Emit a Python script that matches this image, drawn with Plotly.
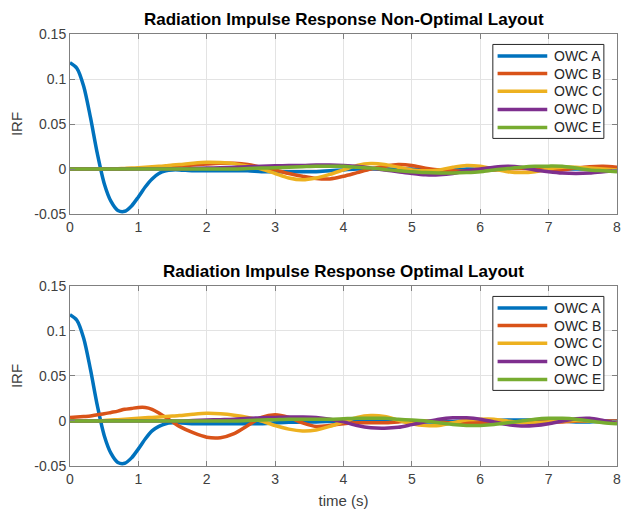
import plotly.graph_objects as go
from plotly.subplots import make_subplots

# time grid (s)
t = [0, 0.1, 0.2, 0.3, 0.4, 0.5, 0.6, 0.7, 0.8, 0.9, 1.0, 1.1, 1.2, 1.3, 1.4, 1.5, 1.6,
     1.8, 2.0, 2.2, 2.4, 2.6, 2.8, 3.0, 3.2, 3.4, 3.6, 3.8, 4.0, 4.2, 4.4, 4.6, 4.8,
     5.0, 5.2, 5.4, 5.6, 5.8, 6.0, 6.2, 6.4, 6.6, 6.8, 7.0, 7.2, 7.4, 7.6, 7.8, 8.0]

names = ["OWC A", "OWC B", "OWC C", "OWC D", "OWC E"]
colors = ["#0072BD", "#D95319", "#EDB120", "#7E2F8E", "#77AC30"]

# Non-optimal layout
nonopt_A = [0.118, 0.112, 0.092, 0.057, 0.017, -0.016, -0.036, -0.046, -0.047, -0.041, -0.031, -0.020, -0.011, -0.005, -0.002, -0.001, -0.001,
            -0.002, -0.002, -0.002, -0.002, -0.002, -0.003, -0.003, -0.003, -0.003, -0.003, -0.002, -0.001, 0.0, 0.0, 0.0, 0.0,
            0.0, -0.001, -0.001, -0.001, 0.0, 0.0, 0.0, 0.001, 0.001, 0.001, 0.001, 0.0, 0.0, 0.0, 0.0, 0.0]
nonopt_B = [0.0, 0.0, 0.0, 0.0, 0.0, 0.0, 0.0, 0.0, 0.0, 0.0003, 0.0005, 0.001, 0.0015, 0.002, 0.0025, 0.003, 0.0035,
            0.0045, 0.0055, 0.0063, 0.0063, 0.005, 0.002, -0.001, -0.005, -0.008, -0.0105, -0.011, -0.008, -0.004, 0.0, 0.003, 0.005,
            0.004, 0.001, -0.001, -0.002, -0.0025, -0.002, -0.001, 0.0, 0.0005, 0.0, -0.0015, -0.001, 0.001, 0.0025, 0.003, 0.002]
nonopt_C = [0.0, 0.0, 0.0, 0.0, 0.0, 0.0, 0.0002, 0.0004, 0.0007, 0.001, 0.0015, 0.002, 0.0025, 0.003, 0.0037, 0.0045, 0.005,
            0.0065, 0.0075, 0.0072, 0.006, 0.003, 0.0, -0.005, -0.010, -0.012, -0.010, -0.006, -0.001, 0.004, 0.006, 0.005, 0.002,
            -0.001, -0.002, -0.001, 0.002, 0.004, 0.003, 0.0, -0.003, -0.004, -0.003, 0.0, 0.002, 0.002, 0.001, 0.0, -0.001]
nonopt_D = [0.0, 0.0, 0.0, 0.0, 0.0, 0.0, 0.0, 0.0, 0.0, 0.0, 0.0, 0.0, 0.0, 0.0, 0.0, 0.0, 0.0,
            0.0005, 0.001, 0.0015, 0.002, 0.0025, 0.003, 0.0035, 0.004, 0.004, 0.0045, 0.0045, 0.004, 0.003, 0.001, -0.001, -0.003,
            -0.005, -0.0065, -0.0065, -0.005, -0.002, 0.0, 0.002, 0.003, 0.002, -0.001, -0.003, -0.0045, -0.005, -0.0045, -0.003, -0.002]
nonopt_E = [0.0, 0.0, 0.0, 0.0, 0.0, 0.0, 0.0, 0.0, 0.0, 0.0, 0.0, 0.0, 0.0, 0.0, 0.0, 0.0, 0.0,
            0.0, 0.0, 0.0, 0.0, 0.0005, 0.001, 0.0015, 0.002, 0.0025, 0.003, 0.003, 0.003, 0.002, 0.001, -0.0005, -0.002,
            -0.003, -0.004, -0.0045, -0.0045, -0.004, -0.003, -0.001, 0.0005, 0.002, 0.003, 0.0032, 0.003, 0.001, -0.001, -0.002, -0.003]

# Optimal layout
opt_A = [0.118, 0.112, 0.092, 0.057, 0.017, -0.016, -0.036, -0.046, -0.047, -0.041, -0.031, -0.020, -0.011, -0.006, -0.003, -0.002, -0.002,
         -0.003, -0.003, -0.003, -0.003, -0.003, -0.003, -0.002, -0.0015, -0.001, -0.001, -0.0005, 0.0, 0.0, 0.0, 0.0, 0.0,
         -0.001, -0.001, -0.001, -0.0005, 0.0, 0.0, 0.0005, 0.001, 0.001, 0.001, 0.001, 0.0, -0.001, -0.001, 0.0, 0.0]
opt_B = [0.004, 0.0045, 0.005, 0.0055, 0.007, 0.008, 0.0095, 0.011, 0.013, 0.014, 0.015, 0.015, 0.013, 0.009, 0.004, -0.001, -0.006,
         -0.013, -0.018, -0.0185, -0.014, -0.005, 0.004, 0.007, 0.004, -0.002, -0.006, -0.005, -0.003, -0.002, -0.002, -0.002, -0.001,
         0.0, 0.0, -0.001, -0.002, -0.002, -0.002, -0.002, -0.0015, -0.001, -0.001, -0.001, -0.001, 0.0, 0.0, 0.0, 0.0]
opt_C = [0.0, 0.0, 0.0, 0.0, 0.0, 0.0005, 0.001, 0.0015, 0.002, 0.0025, 0.003, 0.0035, 0.004, 0.0045, 0.005, 0.0055, 0.006,
         0.0075, 0.0085, 0.008, 0.0065, 0.004, 0.0, -0.005, -0.009, -0.011, -0.010, -0.006, -0.001, 0.004, 0.006, 0.005, 0.001,
         -0.003, -0.005, -0.005, -0.002, 0.001, 0.002, 0.002, 0.0, -0.002, -0.002, -0.001, 0.0, 0.0005, 0.0, -0.001, -0.002]
opt_D = [0.0, 0.0, 0.0, 0.0, 0.0, 0.0, 0.0, 0.0, 0.0, 0.0, 0.0, 0.0, 0.0, 0.0, 0.0, 0.0, 0.0,
         0.0005, 0.001, 0.0015, 0.002, 0.003, 0.0035, 0.004, 0.0045, 0.0045, 0.004, 0.002, -0.001, -0.005, -0.0075, -0.008, -0.007,
         -0.004, -0.001, 0.002, 0.0035, 0.0035, 0.002, -0.001, -0.004, -0.0055, -0.005, -0.003, 0.0, 0.0025, 0.003, 0.0005, -0.0025]
opt_E = [0.0, 0.0, 0.0, 0.0, 0.0, 0.0, 0.0, 0.0, 0.0, 0.0, 0.0, 0.0, 0.0, 0.0, 0.0, 0.0, 0.0,
         0.0, 0.0, 0.0, 0.0, 0.0005, 0.001, 0.0015, 0.002, 0.002, 0.002, 0.002, 0.0025, 0.003, 0.003, 0.003, 0.002,
         0.001, 0.0, -0.002, -0.004, -0.005, -0.005, -0.004, -0.002, 0.0, 0.002, 0.003, 0.003, 0.002, 0.0, -0.002, -0.003]

titles = ["Radiation Impulse Response Non-Optimal Layout", "Radiation Impulse Response Optimal Layout"]
y_ticks = [-0.05, 0, 0.05, 0.1, 0.15]
y_ticktext = ["-0.05", "0", "0.05", "0.1", "0.15"]
x_ticks = [0, 1, 2, 3, 4, 5, 6, 7, 8]

panels = [[nonopt_A, nonopt_B, nonopt_C, nonopt_D, nonopt_E],
          [opt_A, opt_B, opt_C, opt_D, opt_E]]

FONT = "Liberation Sans, Arial, sans-serif"
GRAY = "#404040"
AXC = "#808080"

fig = make_subplots(rows=2, cols=1, vertical_spacing=0.1667)
for r, series in enumerate(panels, start=1):
    for name, col, y in zip(names, colors, series):
        fig.add_trace(go.Scatter(x=t, y=y, mode="lines", name=name,
                                 line=dict(color=col, width=3.5, shape="spline", smoothing=0.8),
                                 showlegend=False),
                      row=r, col=1)

fig.update_layout(
    width=624, height=512,
    margin=dict(l=70, r=3, t=34, b=46),
    paper_bgcolor="white", plot_bgcolor="white",
    font=dict(family=FONT, size=14, color=GRAY),
    showlegend=False,
)
fig.update_yaxes(domain=[0.5833, 1.0], row=1, col=1)
fig.update_yaxes(domain=[0.0, 0.4167], row=2, col=1)

fig.update_xaxes(range=[0, 8], tickvals=x_ticks, showgrid=True, gridcolor="#e3e3e3", gridwidth=1,
                 showline=True, linecolor=AXC, linewidth=1, mirror="ticks",
                 ticks="inside", ticklen=5, tickcolor=AXC, zeroline=False,
                 ticklabeloverflow="allow",
                 tickfont=dict(size=14, color=GRAY))
fig.update_yaxes(range=[-0.05, 0.15], tickvals=y_ticks, ticktext=y_ticktext, showgrid=True,
                 gridcolor="#e3e3e3", gridwidth=1,
                 showline=True, linecolor=AXC, linewidth=1, mirror="ticks",
                 ticks="inside", ticklen=5, tickcolor=AXC, zeroline=False,
                 tickfont=dict(size=14, color=GRAY),
                 title=dict(text="IRF", font=dict(size=15, color=GRAY), standoff=8))
fig.update_xaxes(title=dict(text="time (s)", font=dict(size=15, color=GRAY), standoff=9), row=2, col=1)

# Legend boxes drawn inside each axes (relative to the axes domain)
leg_box = dict(x0=0.773, x1=0.976, y0=0.42, y1=0.942)
leg_rows = [0.878, 0.780, 0.682, 0.581, 0.481]
leg_line_x = (0.7817, 0.8725)
leg_text_x = 0.8816
for xr, yr in [("x domain", "y domain"), ("x2 domain", "y2 domain")]:
    fig.add_shape(type="rect", xref=xr, yref=yr, **leg_box,
                  line=dict(color="#262626", width=1), fillcolor="white", layer="above")
    for name, col, yy in zip(names, colors, leg_rows):
        fig.add_shape(type="line", xref=xr, yref=yr, x0=leg_line_x[0], x1=leg_line_x[1],
                      y0=yy, y1=yy, line=dict(color=col, width=3.5), layer="above")
        fig.add_annotation(text=name, xref=xr, yref=yr, x=leg_text_x, y=yy,
                           xanchor="left", yanchor="middle", showarrow=False,
                           font=dict(size=14, color="#262626", family=FONT))

for txt, yp in zip(titles, [1.0, 0.4167]):
    fig.add_annotation(text="<b>" + txt + "</b>", xref="paper", yref="paper",
                       x=0.5, y=yp, yshift=3, xanchor="center", yanchor="bottom",
                       showarrow=False, font=dict(size=17, color="#000000", family=FONT))

fig.write_html("out.html")
